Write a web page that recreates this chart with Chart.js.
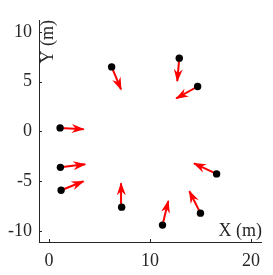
<!DOCTYPE html>
<html><head><meta charset="utf-8">
<script src="https://cdn.jsdelivr.net/npm/chart.js@4/dist/chart.umd.min.js"></script>
<style>html,body{margin:0;padding:0;background:#fff;overflow:hidden}</style>
</head><body>
<canvas id="c" width="273" height="275"></canvas>
<script>
// Positions (m) and velocity vectors
const posX = [1.09, 6.2, 12.9, 14.72, 1.12, 1.19, 7.19, 11.24, 15.0, 16.6];
const posY = [0.36, 6.49, 7.37, 4.52, -3.6, -5.9, -7.6, -9.4, -8.2, -4.26];
const velU = [2.34, 0.93, -0.2, -2.12, 2.46, 2.22, -0.06, 0.57, -1.1, -2.24];
const velV = [-0.13, -2.27, -2.31, -1.2, 0.3, 0.9, 2.4, 2.42, 2.2, 1.06];
const xTicks = [0, 10, 20];
const yTicks = [-10, -5, 0, 5, 10];
const xLabel = 'X (m)';
const yLabel = 'Y (m)';

const FONT = '"Liberation Serif", "Times New Roman", serif';
const AX = '#262626';
const FS = 18;

const datasets = [];
for (let i = 0; i < posX.length; i++) {
  datasets.push({
    type: 'line',
    data: [{x: posX[i], y: posY[i]}, {x: posX[i] + velU[i], y: posY[i] + velV[i]}],
    borderColor: '#ff0000', borderWidth: 2, pointRadius: 0, fill: false, order: 2
  });
}
datasets.push({
  type: 'scatter',
  data: posX.map((x, i) => ({x: x, y: posY[i]})),
  backgroundColor: '#000', borderColor: '#000', pointRadius: 3.7, borderWidth: 0, order: 1
});

const arrowPlugin = {
  id: 'arrows',
  afterDatasetsDraw(chart) {
    const ctx = chart.ctx, xs = chart.scales.x, ys = chart.scales.y;
    ctx.save();
    ctx.fillStyle = '#ff0000';
    for (let i = 0; i < posX.length; i++) {
      const x0 = xs.getPixelForValue(posX[i]), y0 = ys.getPixelForValue(posY[i]);
      const x1 = xs.getPixelForValue(posX[i] + velU[i]), y1 = ys.getPixelForValue(posY[i] + velV[i]);
      const a = Math.atan2(y1 - y0, x1 - x0);
      const L = 12, W = 4.5, N = 8;
      ctx.save();
      ctx.translate(x1, y1); ctx.rotate(a);
      ctx.beginPath();
      ctx.moveTo(1, 0);
      ctx.lineTo(-L, -W);
      ctx.lineTo(-N, 0);
      ctx.lineTo(-L, W);
      ctx.closePath();
      ctx.fill();
      ctx.restore();
    }
    ctx.restore();
  },
  afterDraw(chart) {
    const ctx = chart.ctx, xs = chart.scales.x, ys = chart.scales.y, ca = chart.chartArea;
    ctx.save();
    ctx.strokeStyle = AX; ctx.lineWidth = 1;
    ctx.beginPath();
    xTicks.forEach(t => { const p = Math.round(xs.getPixelForValue(t)) + 0.5; ctx.moveTo(p, ca.bottom); ctx.lineTo(p, ca.bottom - 3); });
    yTicks.forEach(t => { const p = Math.round(ys.getPixelForValue(t)) + 0.5; ctx.moveTo(ca.left, p); ctx.lineTo(ca.left + 3, p); });
    ctx.stroke();
    ctx.fillStyle = AX;
    ctx.font = FS + 'px ' + FONT;
    ctx.textAlign = 'right'; ctx.textBaseline = 'alphabetic';
    ctx.fillText(xLabel, ca.right + 1, ca.bottom - 6);
    ctx.translate(ca.left + 14, ca.top);
    ctx.rotate(-Math.PI / 2);
    ctx.textAlign = 'right';
    ctx.fillText(yLabel, 0, 0);
    ctx.restore();
  }
};

new Chart(document.getElementById('c'), {
  data: {datasets},
  options: {
    responsive: false, animation: false, devicePixelRatio: 1,
    layout: {padding: {top: 20, right: 12, left: 0, bottom: 0}},
    plugins: {legend: {display: false}, tooltip: {enabled: false}},
    scales: {
      x: {
        type: 'linear', min: -1, max: 21,
        afterBuildTicks: s => { s.ticks = xTicks.map(v => ({value: v})); },
        afterFit: s => { s.height = 33; },
        grid: {drawOnChartArea: false, drawTicks: false},
        border: {display: true, color: AX, width: 1},
        ticks: {color: AX, font: {family: FONT, size: FS}, padding: 8, maxRotation: 0}
      },
      y: {
        type: 'linear', min: -11.1, max: 11.2,
        afterBuildTicks: s => { s.ticks = yTicks.map(v => ({value: v})); },
        afterFit: s => { s.width = 39; },
        grid: {drawOnChartArea: false, drawTicks: false},
        border: {display: true, color: AX, width: 1},
        ticks: {color: AX, font: {family: FONT, size: FS}, padding: 7}
      }
    }
  },
  plugins: [arrowPlugin]
});
</script>
</body></html>
